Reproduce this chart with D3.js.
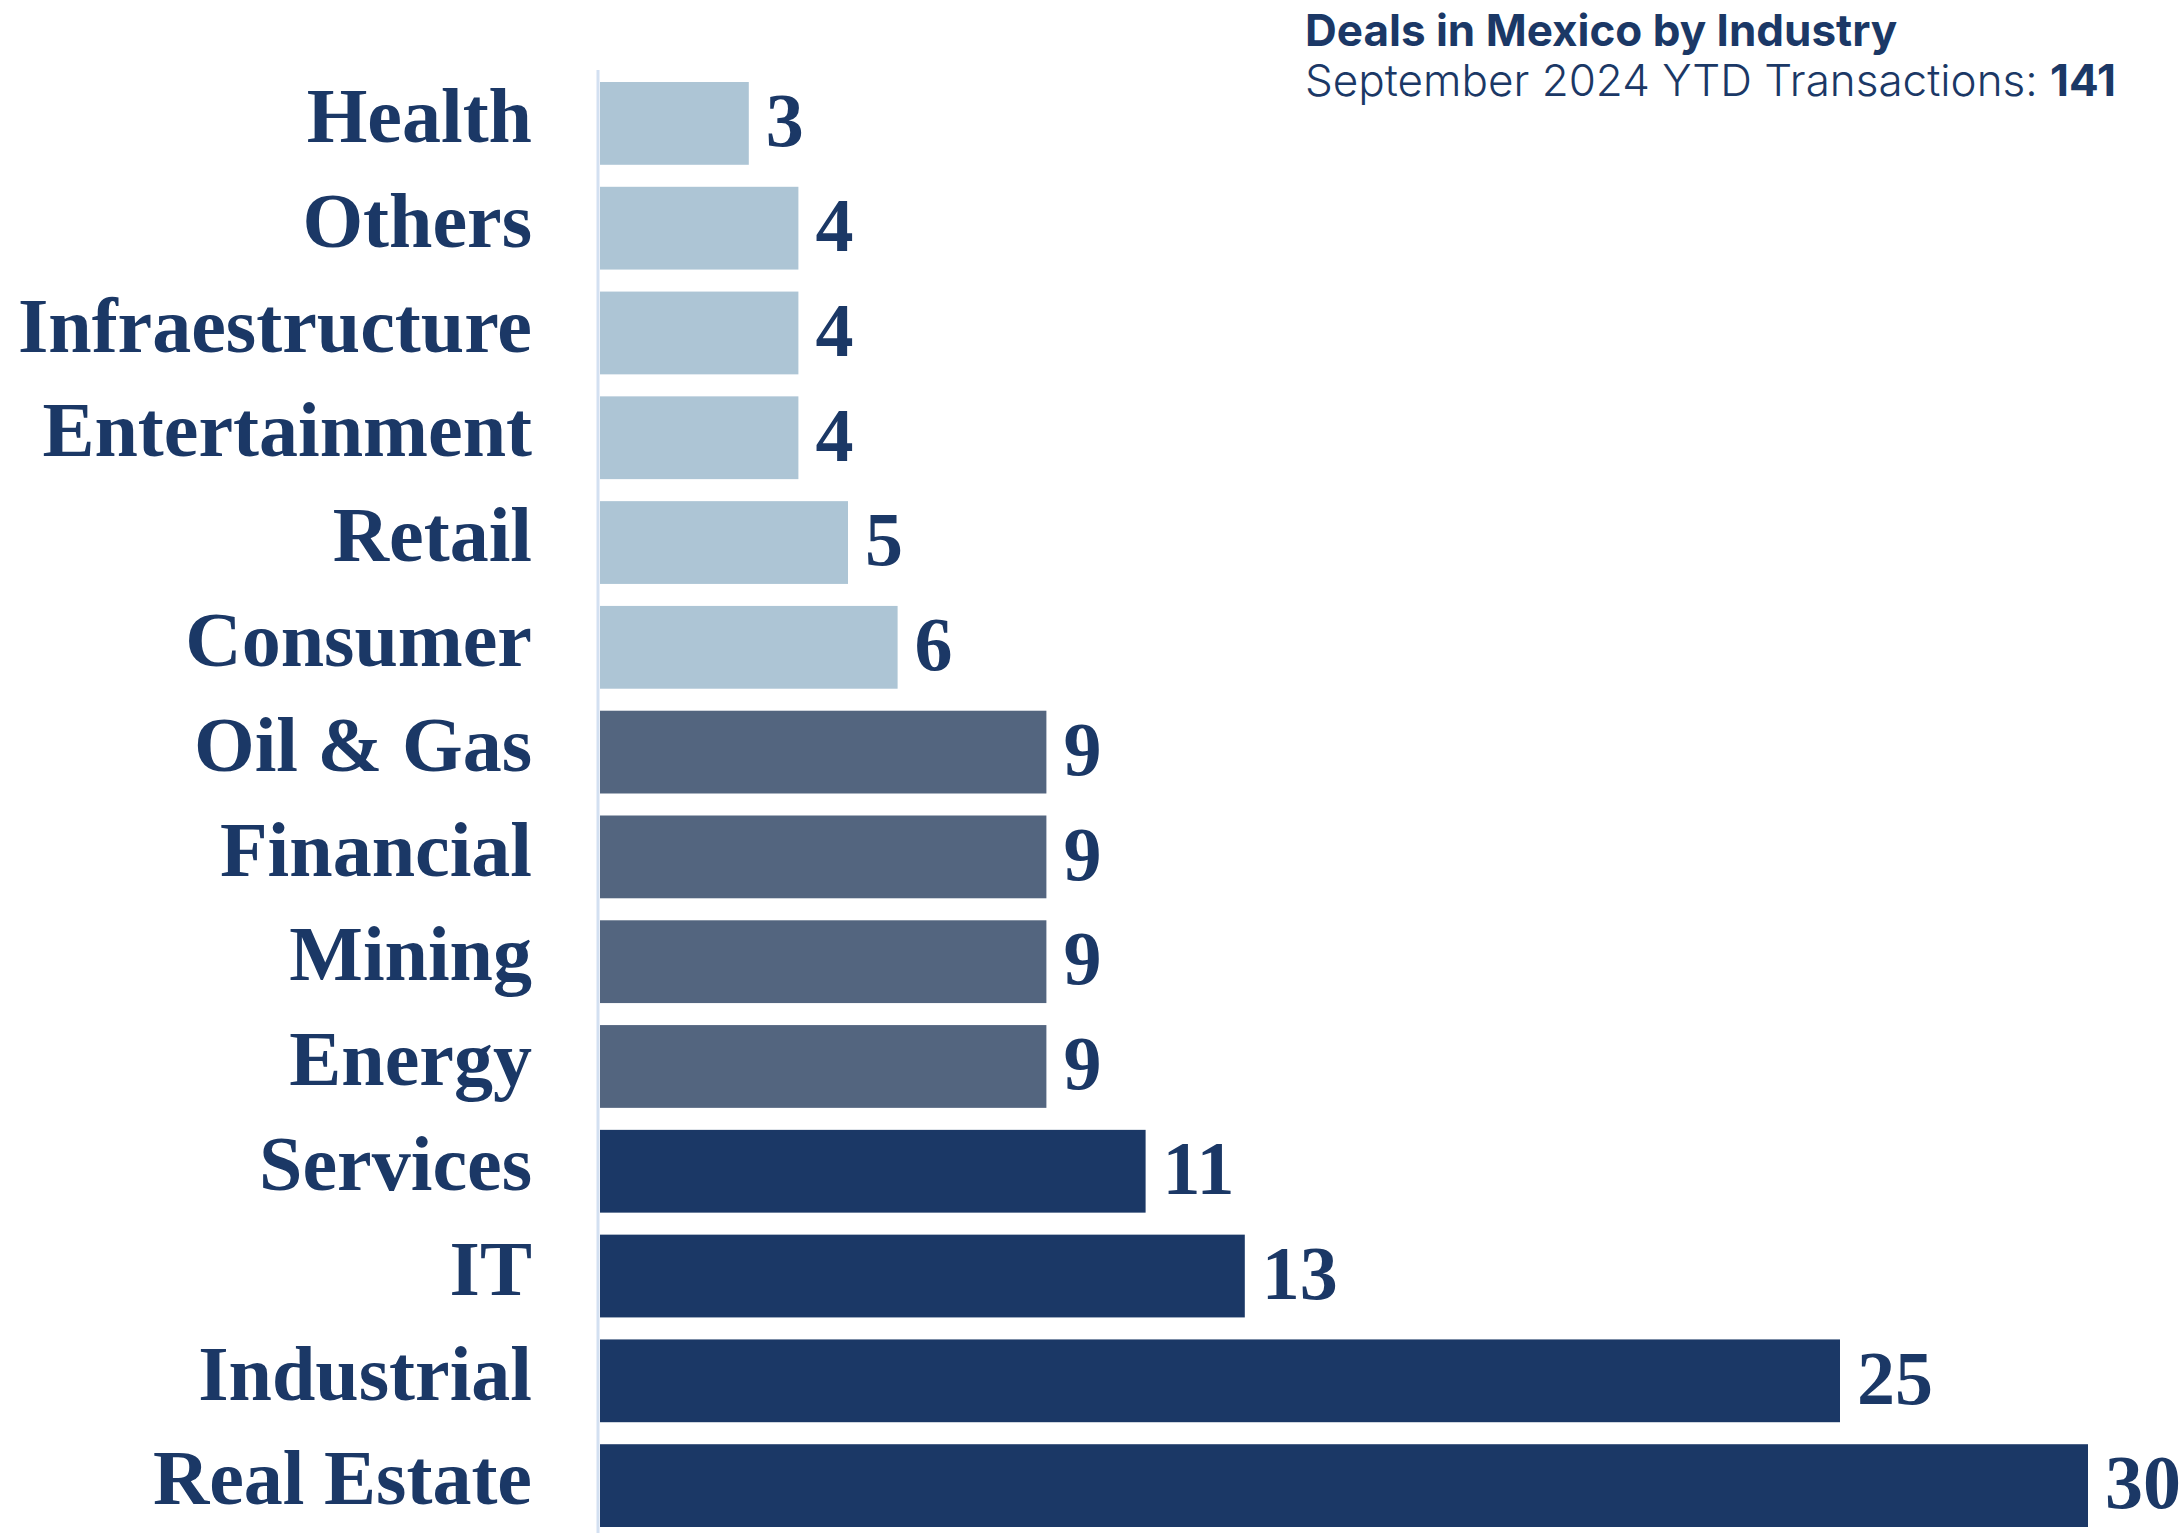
<!DOCTYPE html>
<html>
<head>
<meta charset="utf-8">
<script src="https://cdn.jsdelivr.net/npm/d3@7"></script>
<style>
  body { margin: 0; background: #fff; }
  .label text { font-family: "Liberation Serif", serif; font-weight: bold; fill: #1b3866; }
</style>
</head>
<body>
<div id="chart"></div>
<script>
// industries, top to bottom
var industries = ["Health", "Others", "Infraestructure", "Entertainment", "Retail", "Consumer",
    "Oil & Gas", "Financial", "Mining", "Energy", "Services", "IT", "Industrial", "Real Estate"];
var deals = [3, 4, 4, 4, 5, 6, 9, 9, 9, 9, 11, 13, 25, 30];
var totalDeals = 141;

var width = 2183, height = 1533;
var navy = "#1b3866";

var svg = d3.select("#chart")
    .append("svg")
    .attr("width", width)
    .attr("height", height);

var x = d3.scaleLinear()
    .domain([0, 30])
    .range([600, 2088]);

var y = d3.scaleBand()
    .domain(industries)
    .range([71, 1538])
    .paddingInner(0.21)
    .paddingOuter(0.105);

// three shades depending on deal count
var color = d3.scaleThreshold()
    .domain([7, 10])
    .range(["#adc5d5", "#53657f", navy]);

svg.selectAll(".bar")
    .data(deals)
    .enter().append("rect")
    .attr("class", "bar")
    .attr("x", x(0))
    .attr("y", function (d, i) { return y(industries[i]); })
    .attr("width", function (d) { return x(d) - x(0); })
    .attr("height", y.bandwidth())
    .style("fill", function (d) { return color(d); });

// category axis on the left
var axis = svg.append("g")
    .attr("class", "label")
    .attr("transform", "translate(598,0)")
    .call(d3.axisLeft(y).tickSize(0).tickPadding(66));
axis.select(".domain")
    .attr("stroke", "#d3e0f1")
    .attr("stroke-width", 3)
    .attr("d", "M0,70V1533");
axis.selectAll("text")
    .attr("dy", "0.24em")
    .style("font-size", "78px")
    .style("font-family", "Liberation Serif, serif")
    .style("font-weight", "bold")
    .style("fill", navy);

// value labels
svg.append("g")
    .attr("class", "label")
    .selectAll("text")
    .data(deals)
    .enter().append("text")
    .attr("x", function (d) { return x(d) + 17; })
    .attr("y", function (d, i) { return y(industries[i]) + y.bandwidth() / 2; })
    .attr("dy", "0.3em")
    .style("font-size", "76px")
    .text(function (d) { return d; });

// title block
svg.append("text")
    .attr("x", 1305)
    .attr("y", 46)
    .style("font-family", "Inter, sans-serif")
    .style("font-weight", 700)
    .style("font-size", "44px")
    .style("fill", navy)
    .text("Deals in Mexico by Industry");

var sub = svg.append("text")
    .attr("x", 1305)
    .attr("y", 96)
    .style("font-family", "Inter, sans-serif")
    .style("font-size", "44px")
    .style("fill", navy);
sub.append("tspan").style("font-weight", 300).text("September 2024 YTD Transactions: ");
sub.append("tspan").style("font-weight", 700).text(totalDeals);
</script>
</body>
</html>
